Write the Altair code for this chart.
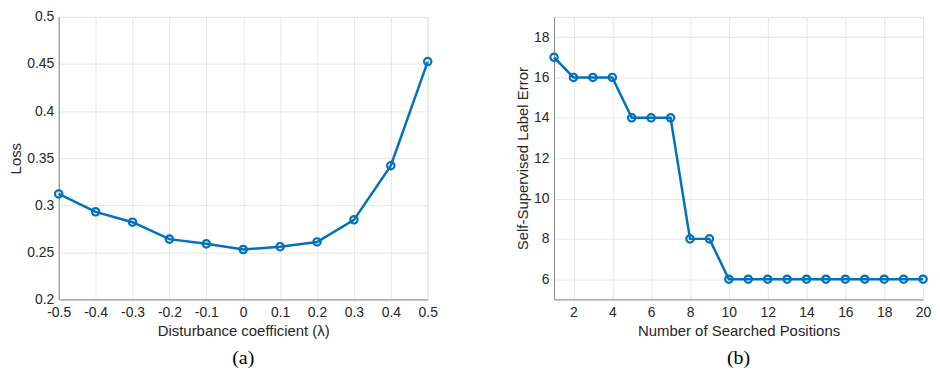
import altair as alt
import pandas as pd

lam = [-0.5, -0.4, -0.3, -0.2, -0.1, 0.0, 0.1, 0.2, 0.3, 0.4, 0.5]
loss = [0.312, 0.293, 0.282, 0.264, 0.259, 0.253, 0.256, 0.261, 0.2845, 0.342, 0.4526]

positions = list(range(1, 21))
label_err = [17, 16, 16, 16, 14, 14, 14, 8, 8, 6, 6, 6, 6, 6, 6, 6, 6, 6, 6, 6]

lam_ticks = [-0.5, -0.4, -0.3, -0.2, -0.1, 0.0, 0.1, 0.2, 0.3, 0.4, 0.5]
loss_ticks = [0.2, 0.25, 0.3, 0.35, 0.4, 0.45, 0.5]
pos_ticks = [2, 4, 6, 8, 10, 12, 14, 16, 18, 20]
err_ticks = [6, 8, 10, 12, 14, 16, 18]

BLUE = "#0072BD"
TXT = "#262626"
W, H = 371, 284

df_a = pd.DataFrame({"lam": lam, "loss": loss})
df_b = pd.DataFrame({"pos": positions, "err": label_err})


def axis(title, values, fmt, label_pad, title_pad):
    return dict(title=title, values=values, grid=True, gridColor="#e6e6e6",
                tickSize=0, domainColor="#8c8c8c", labelColor=TXT, titleColor=TXT,
                labelFont="Liberation Sans", titleFont="Liberation Sans",
                labelFontSize=14, titleFontSize=15, titleFontWeight="normal",
                labelPadding=label_pad, titlePadding=title_pad, labelFlush=False,
                labelExpr="replace(format(datum.value, '%s'), '\u2212', '-')" % fmt)


def panel(df, xf, yf, xdom, ydom, xax, yax, caption):
    x = alt.X(f"{xf}:Q", scale=alt.Scale(domain=xdom, nice=False, zero=False),
              axis=alt.Axis(**xax))
    y = alt.Y(f"{yf}:Q", scale=alt.Scale(domain=ydom, nice=False, zero=False),
              axis=alt.Axis(**yax))
    base = alt.Chart(df).encode(x=x, y=y)
    line = base.mark_line(color=BLUE, strokeWidth=2.5)
    pts = base.mark_point(shape="circle", size=55, color=BLUE, filled=False,
                          strokeWidth=2.2, opacity=1)
    cap = alt.Chart(pd.DataFrame({"c": [caption]})).mark_text(
        font="Liberation Serif", fontSize=20, color="black", baseline="middle"
    ).encode(text="c:N", x=alt.value(W / 2), y=alt.value(H + 59))
    return alt.layer(line, pts, cap).properties(width=W, height=H)


a = panel(df_a, "lam", "loss", [-0.5, 0.5], [0.2, 0.5],
          axis("Disturbance coefficient (λ)", lam_ticks, ".1~f", 6, 4),
          axis("Loss", loss_ticks, ".2~f", 5, 3), "(a)")
b = panel(df_b, "pos", "err", [1, 20], [5, 19],
          axis("Number of Searched Positions", pos_ticks, "d", 6, 4),
          axis("Self-Supervised Label Error", err_ticks, "d", 5, 3), "(b)")

chart = alt.hconcat(a, b, spacing=76).properties(
    padding={"left": 0, "top": 0, "right": 0, "bottom": 0}
).configure_view(stroke="#8c8c8c", strokeWidth=1).configure(background="white")

chart.save("out.html", embed_options={"renderer": "svg", "actions": False})
